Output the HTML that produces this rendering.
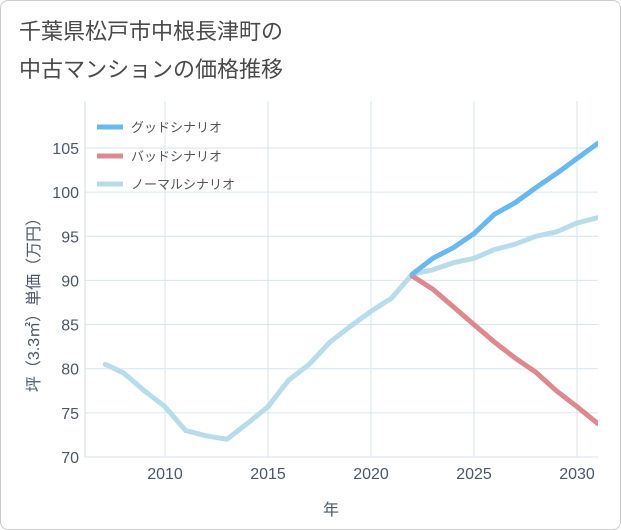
<!DOCTYPE html>
<html><head><meta charset="utf-8"><style>
body{margin:0;background:#fff;font-family:"Liberation Sans","Noto Sans CJK JP",sans-serif}
#wrap{position:relative;width:619px;height:528px;border:1px solid #ccc;border-radius:8px;overflow:hidden;background:#fff}
</style></head><body>
<div id="wrap">
<svg id="c" width="619" height="528" xmlns="http://www.w3.org/2000/svg">
<text x="18" y="38" font-size="22" fill="#4a4a4a">千葉県松戸市中根長津町の</text>
<text x="18" y="76" font-size="22" fill="#4a4a4a">中古マンションの価格推移</text>
<g id="grid"></g><g id="series"></g><g id="axes"></g>
<text x="330" y="514" font-size="16" fill="#4a5868" text-anchor="middle">年</text>
<text transform="translate(38,300) rotate(-90)" font-size="16" fill="#4a5868" text-anchor="middle">坪（3.3㎡）単価（万円）</text>
<g>
<line x1="96" y1="126" x2="122" y2="126" stroke="#6ab8f0" stroke-width="5"/>
<text x="130" y="131" font-size="13" fill="#555">グッドシナリオ</text>
<line x1="96" y1="155" x2="122" y2="155" stroke="#dc8a90" stroke-width="5"/>
<text x="130" y="160" font-size="13" fill="#555">バッドシナリオ</text>
<line x1="96" y1="183" x2="122" y2="183" stroke="#b8dcea" stroke-width="5"/>
<text x="130" y="188" font-size="13" fill="#555">ノーマルシナリオ</text>
</g>
</svg></div>
<script>
const normalYears=[2007.1,2008,2009,2010,2011,2012,2013,2014,2015,2016,2017,2018,2019,2020,2021,2022,2023,2024,2025,2026,2027,2028,2029,2030,2031];
const normalVals=[80.5,79.5,77.5,75.7,73,72.4,72,73.8,75.7,78.7,80.5,83,84.8,86.5,88,90.7,91.2,92,92.5,93.5,94.1,95,95.5,96.5,97.1];
const goodYears=[2022,2023,2024,2025,2026,2027,2028,2029,2030,2031];
const goodVals=[90.7,92.5,93.7,95.3,97.5,98.8,100.5,102.1,103.8,105.5];
const badYears=[2022,2023,2024,2025,2026,2027,2028,2029,2030,2031];
const badVals=[90.5,89,87,85,83,81.2,79.6,77.5,75.7,73.8];
const yTicks=[70,75,80,85,90,95,100,105];
const xTicks=[2010,2015,2020,2025,2030];
const NS="http://www.w3.org/2000/svg";
const L=84,R=597,T=100,B=456;
function xs(v){return 164+(v-2010)*20.6;}
function ys(v){return 456-(v-70)*8.83;}
function mk(tag,at,parent){const e=document.createElementNS(NS,tag);for(const k in at)e.setAttribute(k,at[k]);document.getElementById(parent).appendChild(e);return e;}
for(const t of yTicks){
 const l=mk('line',{x1:L,x2:R,y1:ys(t),y2:ys(t),stroke:'#d6e6ef','stroke-width':1},'grid');
 
 
 const tx=mk('text',{x:L-6,y:ys(t)+6,'font-size':16,fill:'#4a5868','text-anchor':'end'},'axes');
 tx.textContent=t;
 
 
}
for(const t of xTicks){
 const l=mk('line',{x1:xs(t),x2:xs(t),y1:T,y2:B,stroke:'#d6e6ef','stroke-width':1},'grid');
 
 
 const tx=mk('text',{x:xs(t),y:478,'font-size':16,fill:'#4a5868','text-anchor':'middle'},'axes');
 tx.textContent=t;
 
 
}
const ax=mk('line',{x1:L,x2:L,y1:T,y2:B,stroke:'#cfdde6'},'axes');


const cp=mk('clipPath',{id:'clip'},'series');
const cr=document.createElementNS(NS,'rect');cr.setAttribute('x',L);cr.setAttribute('y',T-10);cr.setAttribute('width',R-L);cr.setAttribute('height',B-T+20);cp.appendChild(cr);
function line(yrs,vals,color,name){
 const d=yrs.map((y,i)=>(i?'L':'M')+xs(y).toFixed(1)+','+ys(vals[i]).toFixed(1)).join(' ');
 const p=mk('path',{d:d,fill:'none',stroke:color,'stroke-width':5,'stroke-linejoin':'round','stroke-linecap':'round','clip-path':'url(#clip)'},'series');
 
 
}
line(normalYears,normalVals,'#b8dcea','normal-scenario-line');
line(badYears,badVals,'#dc8a90','bad-scenario-line');
line(goodYears,goodVals,'#6ab8f0','good-scenario-line');
</script></body></html>
